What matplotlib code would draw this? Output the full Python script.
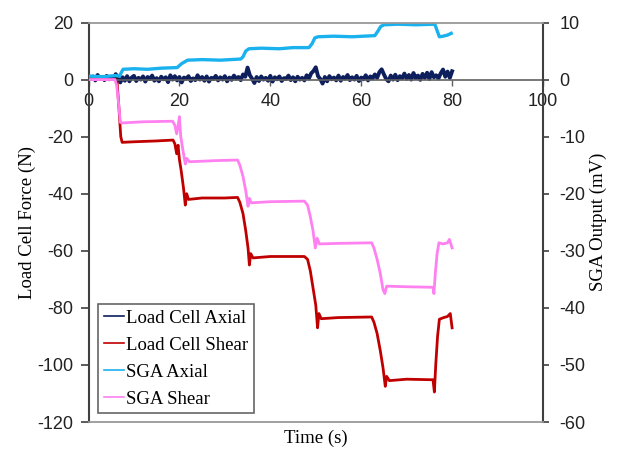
import matplotlib
matplotlib.use("Agg")
import matplotlib.pyplot as plt

plt.rcParams['axes.unicode_minus'] = False

# Load Cell Axial (N), one reading every half second, noisy around zero
lc_axial_t = [i * 0.5 for i in range(161)]
lc_axial = [1.4, 0.2, 1.1, -0.3, 1.6, 0.4, 0.9, -0.2, 1.3, 0.1,
            1.0, 0.6, 1.9, 0.3, -1.0, 0.8, -0.4, 1.2, -0.6, 0.7,
            1.3, -0.5, 0.6, 0.0, 1.1, -0.7, 0.9, 0.2, 1.4, -0.4,
            0.5, -0.6, 1.0, 0.1, 0.8, -0.9, 1.5, 0.0, 1.2, -0.3,
            0.9, -1.0, 0.7, 0.3, 1.2, -0.5, 0.4, -0.2, 1.5, 0.0,
            0.9, -0.4, 1.1, -0.7, 0.6, 0.2, 1.3, -0.3, 0.8, 0.0,
            1.2, -0.6, 0.7, -0.1, 1.4, 0.3, 0.9, -0.2, 1.8, 1.0,
            4.2, 1.5, 0.3, -1.2, 0.9, -0.5, 1.1, 0.0, 0.6, -0.4,
            1.3, -0.7, 0.8, 0.1, 1.1, -0.5, 0.5, 0.2, 1.4, -0.2,
            0.8, -0.6, 1.0, 0.0, 0.6, -0.3, 1.5, 0.4, 2.2, 3.0,
            4.3, 1.2, 0.2, -1.4, 0.9, -0.6, 1.2, 0.1, 0.7, -0.3,
            1.4, -0.4, 0.9, 0.3, 1.6, -0.2, 0.8, 0.0, 1.3, -0.5,
            0.7, 0.1, 1.5, -0.3, 1.1, 0.4, 1.8, 0.6, 2.6, 3.6,
            1.8, 0.2, -0.6, 1.4, 0.0, 1.7, -0.2, 1.2, 0.4, 2.1,
            0.3, 1.6, 0.0, 2.3, 0.5, 1.4, -0.1, 2.0, 0.6, 2.4,
            0.2, 2.6, 0.8, 1.5, 0.4, 2.2, 3.5, 1.0, 2.8, 0.6,
            2.9]

# Load Cell Shear (N)
lc_shear_t = [0, 6.0, 6.3, 6.7, 7.1, 7.4, 10, 15, 18.6, 19.0, 19.4, 19.7, 20.0,
              20.4, 20.9, 21.3, 21.6, 22, 25, 30, 32.8, 33.3, 34, 34.6, 35.1,
              35.4, 35.7, 36.2, 40, 47.5, 48.2, 48.8, 49.4, 50.0, 50.4, 50.7,
              51.2, 55, 62.3, 62.8, 63.5, 64.2, 64.8, 65.3, 65.6, 66.2, 70,
              75.8, 76.1, 76.4, 76.8, 77.2, 78, 79, 79.6, 80]
lc_shear = [0, 0, -1, -10, -20, -22, -21.8, -21.5, -21.2, -22.5, -26, -23, -28,
            -32, -38, -44, -40, -42, -41.5, -41.5, -41.3, -43, -47, -53, -59,
            -65, -61, -62.5, -62, -62, -63, -67, -73, -79, -87, -82,
            -83.8, -83.4, -83.2, -85, -89, -95, -101, -107.5, -104, -105.5, -105,
            -105.2, -109.5, -100, -90, -84, -83.5, -83, -82, -87]

# SGA Axial (mV)
sga_axial_t = [0, 3, 6, 6.8, 7.6, 10, 13, 16, 19.5, 20.5, 21.8, 25, 29, 33.5,
               34, 34.6, 35.3, 38, 42, 45, 48.5, 49.2, 49.8, 50.5, 54, 58, 63,
               63.6, 64.3, 65, 68, 72, 76.2, 76.6, 77.2, 78, 79, 79.8]
sga_axial = [0.6, 0.5, 0.7, 0.6, 1.8, 1.9, 1.8, 2.0, 2.1, 2.8, 3.4, 3.5, 3.4,
             3.6, 4.0, 5.0, 5.4, 5.5, 5.4, 5.6, 5.6, 6.3, 7.3, 7.5, 7.6, 7.5,
             7.7, 8.4, 9.3, 9.6, 9.7, 9.6, 9.7, 8.8, 7.5, 7.6, 7.8, 8.1]

# SGA Shear (mV)
sga_shear_t = [0, 5.8, 6.2, 6.6, 7.0, 7.4, 12, 18.5, 19.0, 19.4, 19.7, 20.0, 20.3,
               20.8, 21.3, 21.6, 22.2, 28, 32.8, 33.3, 34, 34.6, 35.1, 35.4, 35.8,
               40, 47.5, 48.2, 48.8, 49.4, 49.9, 50.3, 50.8, 55, 62.3, 62.8, 63.5,
               64.2, 64.8, 65.2, 65.6, 70, 75.8, 76.0, 76.3, 76.7, 77.1, 78, 79,
               79.4, 80]
sga_shear = [0, 0, -1, -4, -7.5, -7.6, -7.4, -7.3, -8.0, -9.5, -8.2, -6.5, -10,
             -12.5, -14.8, -13.8, -14.4, -14.2, -14.1, -15, -17, -19.5, -22.2, -20.8, -21.6,
             -21.4, -21.3, -22, -24, -26.5, -29.5, -27.8, -28.8, -28.7, -28.6, -29.5, -31.5,
             -34, -36.8, -37.5, -36.2, -36.3, -36.4, -37.5, -34, -30.5, -28.6, -28.8, -28.6,
             -28.0, -29.5]

x_ticks = [0, 20, 40, 60, 80, 100]
left_ticks = [20, 0, -20, -40, -60, -80, -100, -120]
right_ticks = [10, 0, -10, -20, -30, -40, -50, -60]

serif = ['Liberation Serif', 'DejaVu Serif']
sans = ['Liberation Sans', 'DejaVu Sans']

fig = plt.figure(figsize=(6.2, 4.49), dpi=100)
ax = fig.add_axes([88.5 / 620, (449 - 422) / 449, 454.5 / 620, 399.5 / 449])
ax2 = ax.twinx()

l1, = ax.plot(lc_axial_t, lc_axial, color='#0d1f5c', lw=2.8, label='Load Cell Axial')
l2, = ax.plot(lc_shear_t, lc_shear, color='#c00000', lw=2.0, label='Load Cell Shear')
l3, = ax2.plot(sga_axial_t, sga_axial, color='#1ab2ee', lw=2.4, label='SGA Axial')
l4, = ax2.plot(sga_shear_t, sga_shear, color='#ff80f0', lw=2.0, label='SGA Shear')

ax.set_xlim(0, 100)
ax.set_ylim(-120, 20)
ax2.set_ylim(-60, 10)

ax.set_xticks(x_ticks)
ax.set_yticks(left_ticks)
ax2.set_yticks(right_ticks)

# x axis runs along y = 0
ax.spines['bottom'].set_position(('data', 0))
ax.spines['bottom'].set_color('#606060')
ax.spines['bottom'].set_linewidth(1.2)
ax.spines['top'].set_visible(False)
ax.spines['right'].set_visible(False)
ax.spines['left'].set_color('#404040')
ax.spines['left'].set_linewidth(1.5)

ax2.spines['left'].set_visible(False)
ax2.spines['right'].set_color('#404040')
ax2.spines['right'].set_linewidth(1.5)
for s in ['top', 'bottom']:
    ax2.spines[s].set_color('#999999')
    ax2.spines[s].set_linewidth(1.3)

ax.tick_params(axis='x', direction='out', length=4, width=1, color='#606060', pad=6)
ax.tick_params(axis='y', direction='out', length=6, width=1.2, color='#404040', pad=5)
ax2.tick_params(axis='y', direction='out', length=4, width=1.2, color='#404040', pad=8)
for lab in ax.get_xticklabels() + ax.get_yticklabels() + ax2.get_yticklabels():
    lab.set_family(sans)
    lab.set_fontsize(13)
    lab.set_color('#222222')

ax.set_xlabel('Time (s)', family=serif, fontsize=13.5)
ax.xaxis.set_label_coords(0.5, -0.02)
ax.set_ylabel('Load Cell Force (N)', family=serif, fontsize=13.5, labelpad=1)
ax2.set_ylabel('SGA Output (mV)', family=serif, fontsize=13.5, labelpad=3)

leg = ax2.legend([l1, l2, l3, l4], [l.get_label() for l in [l1, l2, l3, l4]],
                 loc='lower left', bbox_to_anchor=(0.021, 0.022), borderaxespad=0,
                 prop={'family': serif, 'size': 13.5}, frameon=True, fancybox=False,
                 handlelength=1.1, handletextpad=0.1, labelspacing=0.52,
                 borderpad=0.3)
leg.get_frame().set_edgecolor('#404040')
leg.get_frame().set_linewidth(1.2)
for line in leg.get_lines():
    line.set_linewidth(1.2)

fig.savefig('out.png', dpi=100)
